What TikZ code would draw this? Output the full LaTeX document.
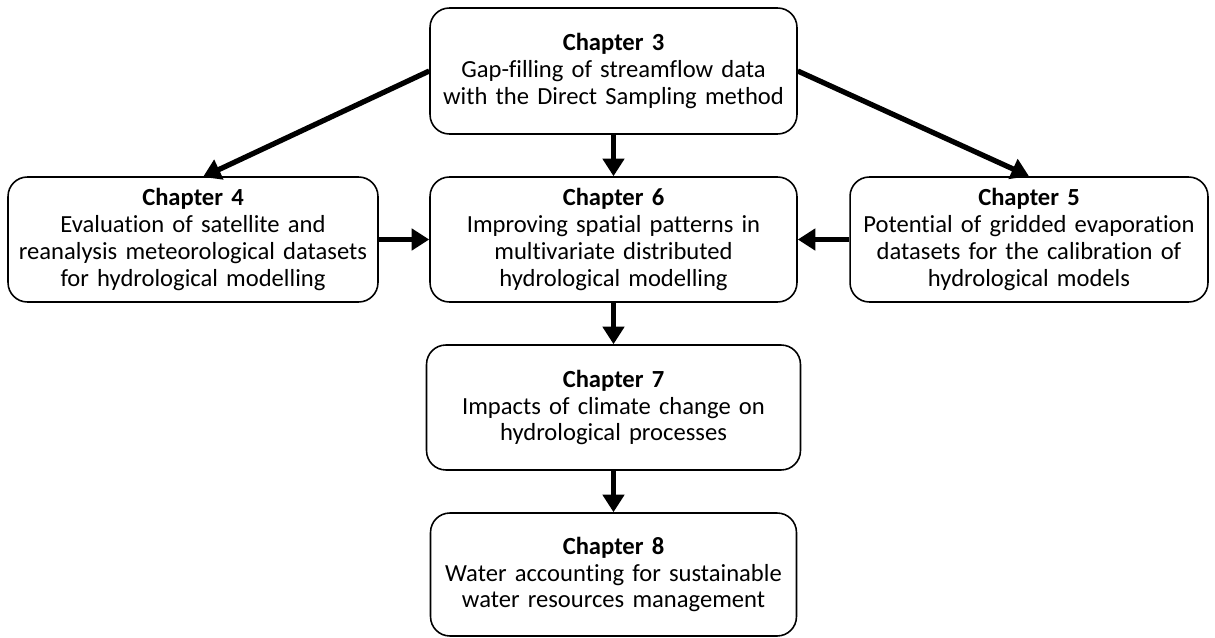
\documentclass[tikz,border=0pt]{standalone}
\usepackage{fontspec}
\setmainfont[Ligatures=NoCommon]{Carlito}
\usetikzlibrary{arrows.meta}
% body font of the chapter boxes, with a tighter interword space
\newcommand\chapfont{\fontsize{14}{15.2}\selectfont\fontdimen2\font=0.17em
  \bfseries\fontdimen2\font=0.17em\mdseries}
\begin{document}
\begin{tikzpicture}[x=0.02cm,y=0.02cm,
  chapbox/.style={draw=black, line width=0.9pt, rounded corners=11pt, fill=white,
    align=center, inner sep=2pt, text width=7cm, font=\chapfont},
  flow/.style={line width=3pt, -{Triangle[length=10pt,width=12pt]}}]
  \useasboundingbox (0,0) rectangle (1215,637);
  \node[chapbox, minimum width=7.34cm, minimum height=2.52cm] (c3) at (613.5,566)
    {\textbf{Chapter 3}\\Gap-filling of streamflow data\\with the Direct Sampling method};
  \node[chapbox, minimum width=7.4cm, minimum height=2.5cm] (c4) at (193,397.5)
    {\textbf{Chapter 4}\\Evaluation of satellite and\\reanalysis meteorological datasets\\for hydrological modelling};
  \node[chapbox, minimum width=7.34cm, minimum height=2.5cm] (c6) at (613.5,397.5)
    {\textbf{Chapter 6}\\Improving spatial patterns in\\multivariate distributed\\hydrological modelling};
  \node[chapbox, minimum width=7.16cm, minimum height=2.5cm] (c5) at (1029,397.5)
    {\textbf{Chapter 5}\\Potential of gridded evaporation\\datasets for the calibration of\\hydrological models};
  \node[chapbox, minimum width=7.48cm, minimum height=2.5cm] (c7) at (613.5,229.5)
    {\textbf{Chapter 7}\\Impacts of climate change on\\hydrological processes};
  \node[chapbox, minimum width=7.32cm, minimum height=2.46cm] (c8) at (613.5,62.5)
    {\textbf{Chapter 8}\\Water accounting for sustainable\\water resources management};
  \coordinate (c4top) at (203,460);
  \draw[flow] (c3.west) -- (c4top);
  \draw[flow] (c3.east) -- (c5.north);
  \draw[flow] (c3.south) -- (c6.north);
  \draw[flow] (c4.east) -- (c6.west);
  \draw[flow] (c5.west) -- (c6.east);
  \draw[flow] (c6.south) -- (c7.north);
  \draw[flow] (c7.south) -- (c8.north);
\end{tikzpicture}
\end{document}
